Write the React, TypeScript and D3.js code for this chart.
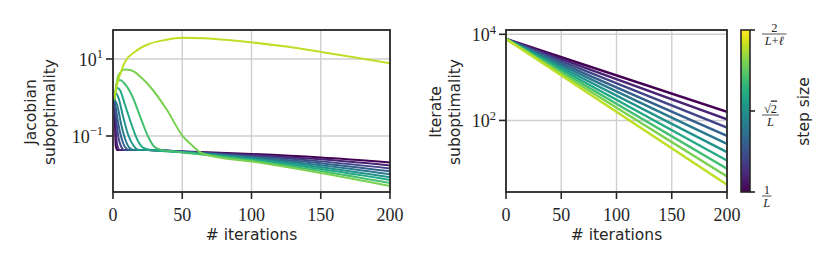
import React from 'react';
import * as d3 from 'd3';

// iterations shown on both panels
const xTickValues = [0, 50, 100, 150, 200];
const jacobianYTickExps = [1, -1];
const iterateYTickExps = [4, 2];

// left panel: one curve per step size (dark = 1/L ... light = larger step), [iteration, value]
const jacobianCurves: [number, number][][] = [
  [[1, 0.86], [2, 0.055], [3, 0.0433], [25, 0.0433], [50, 0.0396], [100, 0.0341], [150, 0.0276], [200, 0.0205]],
  [[1, 0.86], [2, 0.143], [3, 0.0583], [5, 0.0433], [25, 0.0433], [50, 0.0393], [100, 0.0323], [150, 0.0247], [200, 0.0172]],
  [[1, 0.86], [2, 0.351], [4, 0.0887], [6, 0.0517], [8, 0.0433], [25, 0.0433], [50, 0.039], [100, 0.0304], [150, 0.0219], [200, 0.0144]],
  [[1, 0.86], [2, 0.533], [4, 0.193], [7, 0.0698], [10, 0.0459], [12, 0.0433], [25, 0.0433], [50, 0.0386], [100, 0.0288], [150, 0.0195], [200, 0.0121]],
  [[1, 0.86], [3, 0.638], [6, 0.193], [9, 0.0787], [12, 0.0488], [15, 0.0433], [25, 0.0433], [50, 0.0384], [100, 0.0272], [150, 0.0174], [200, 0.0102]],
  [[1, 0.86], [2, 1.31], [4, 0.97], [7, 0.351], [11, 0.106], [15, 0.055], [19, 0.0433], [25, 0.0433], [50, 0.0382], [100, 0.0257], [150, 0.0155], [200, 0.0085]],
  [[1, 0.86], [3, 1.77], [5, 1.57], [8.7, 0.638], [13.5, 0.193], [18, 0.0741], [22, 0.0488], [27, 0.0433], [50, 0.0378], [100, 0.0244], [150, 0.0138], [200, 0.0072]],
  [[1, 0.86], [3, 2.53], [5, 2.85], [8, 2.38], [13.5, 1.16], [20.5, 0.261], [25.5, 0.094], [30, 0.0517], [35, 0.0432], [50, 0.0375], [100, 0.023], [150, 0.0123], [200, 0.006]],
  [[1, 0.86], [4, 3.84], [8.5, 5.34], [13.5, 5.03], [20, 3.4], [27, 1.87], [39, 0.473], [50.5, 0.097], [58, 0.0533], [63, 0.0373], [68, 0.0321], [100, 0.0218], [150, 0.0109], [200, 0.005]],
  [[1, 0.95], [3, 2.2], [5, 3.84], [8.7, 8.5], [16, 15.5], [25.5, 24.1], [37.5, 31.2], [50, 35.7], [66, 34.5], [81, 31.5], [101, 26.8], [125, 21], [150, 15.3], [175, 11], [200, 7.7]],
];

// right panel: straight lines on log scale from a common start
const iterateStartIter = 0;
const iterateEndIter = 200;
const iterateStart = 7800;
const iterateEnd = [158, 106, 68, 44, 28.5, 18.3, 11.7, 7.6, 5.0, 3.2];

// colorbar (step size, in units of 1/L)
const stepDomain = [1, 1.828];
const stepTicks = [
  { value: 1, num: '1', den: 'L' },
  { value: 1.414, num: '√2', den: 'L' },
  { value: 1.828, num: '2', den: 'L+ℓ' },
];

const ink = '#262626';
const gridColor = '#cfcfcf';
const serif = "'Liberation Serif', 'DejaVu Serif', serif";
const sans = "'DejaVu Sans', sans-serif";

const serifStyle = (size: number) => ({ fontFamily: serif, fontSize: size });
const sansStyle = { fontFamily: sans, fontSize: 15.5 };

const Sup = ({ x, y, exp, anchor }: { x: number; y: number; exp: number; anchor: string }) => (
  <text x={x} y={y} textAnchor={anchor} style={serifStyle(18)} fill={ink}>
    10
    <tspan dy={-7.5} style={{ fontSize: 12.5 }}>
      {exp < 0 ? '−' + Math.abs(exp) : String(exp)}
    </tspan>
  </text>
);

const Den = ({ s }: { s: string }) => (
  <>
    {s.split('').map((c, i) => (
      <tspan key={i} style={{ fontStyle: /[A-Za-zℓ]/.test(c) ? 'italic' : 'normal' }}>
        {c}
      </tspan>
    ))}
  </>
);

function Panel({ x0, x1, y0, y1, yDomain, yExps, clipId, children }: any) {
  const x = d3.scaleLinear().domain([0, 200]).range([x0, x1]);
  const y = d3.scaleLog().domain(yDomain).range([y1, y0]);
  return (
    <g>
      <defs>
        <clipPath id={clipId}>
          <rect x={x0} y={y0} width={x1 - x0} height={y1 - y0} />
        </clipPath>
      </defs>
      {xTickValues.slice(1, -1).map((t) => (
        <line key={'gx' + t} x1={x(t)} x2={x(t)} y1={y0} y2={y1} stroke={gridColor} strokeWidth={1.4} />
      ))}
      {yExps.map((e: number) => (
        <line key={'gy' + e} x1={x0} x2={x1} y1={y(10 ** e)} y2={y(10 ** e)} stroke={gridColor} strokeWidth={1.4} />
      ))}
      <g clipPath={`url(#${clipId})`}>{children(x, y)}</g>
      <rect x={x0} y={y0} width={x1 - x0} height={y1 - y0} fill="none" stroke={ink} strokeWidth={1.8} />
      {xTickValues.map((t) => (
        <g key={'tx' + t}>
          <line x1={x(t)} x2={x(t)} y1={y1} y2={y1 + 7} stroke={ink} strokeWidth={1.6} />
          <text x={x(t)} y={221} textAnchor="middle" style={serifStyle(18)} fill={ink}>
            {t}
          </text>
        </g>
      ))}
      {yExps.map((e: number) => (
        <g key={'ty' + e}>
          <line x1={x0 - 7} x2={x0} y1={y(10 ** e)} y2={y(10 ** e)} stroke={ink} strokeWidth={1.6} />
          <Sup x={x0 - 10} y={y(10 ** e) + 7} exp={e} anchor="end" />
        </g>
      ))}
      <text x={(x0 + x1) / 2} y={240} textAnchor="middle" style={sansStyle} fill={ink}>
        # iterations
      </text>
    </g>
  );
}

export default function App() {
  const color = (i: number) => d3.interpolateViridis(i / 10);
  const cbY = d3.scaleLinear().domain(stepDomain).range([192, 30]);
  const gradStops = d3.range(0, 1.0001, 0.05);

  return (
    <svg
      width={830}
      height={267}
      style={{ position: 'absolute', left: 0, top: 0, background: '#fff' }}
    >
      <Panel
        x0={113}
        x1={390}
        y0={30}
        y1={192}
        yDomain={[10 ** -2.455, 10 ** 1.753]}
        yExps={jacobianYTickExps}
        clipId="clipL"
      >
        {(x: any, y: any) => {
          const line = d3
            .line<[number, number]>()
            .x((d) => x(d[0]))
            .y((d) => y(d[1]))
            .curve(d3.curveMonotoneX);
          return jacobianCurves.map((c, i) => (
            <path key={i} d={line(c) || ''} fill="none" stroke={color(i)} strokeWidth={2} />
          ));
        }}
      </Panel>
      <text transform="translate(35.7,112) rotate(-90)" textAnchor="middle" style={sansStyle} fill={ink}>
        Jacobian
      </text>
      <text transform="translate(55,112) rotate(-90)" textAnchor="middle" style={sansStyle} fill={ink}>
        suboptimality
      </text>

      <Panel
        x0={506}
        x1={727}
        y0={30}
        y1={192}
        yDomain={[10 ** 0.338, 10 ** 4.1]}
        yExps={iterateYTickExps}
        clipId="clipR"
      >
        {(x: any, y: any) => {
          const line = d3
            .line<[number, number]>()
            .x((d) => x(d[0]))
            .y((d) => y(d[1]));
          return iterateEnd.map((v, i) => (
            <path
              key={i}
              d={line([[iterateStartIter, iterateStart], [iterateEndIter, v]]) || ''}
              fill="none"
              stroke={color(i)}
              strokeWidth={2.4}
            />
          ));
        }}
      </Panel>
      <text transform="translate(440.7,112) rotate(-90)" textAnchor="middle" style={sansStyle} fill={ink}>
        Iterate
      </text>
      <text transform="translate(460,112) rotate(-90)" textAnchor="middle" style={sansStyle} fill={ink}>
        suboptimality
      </text>

      {/* colorbar */}
      <defs>
        <linearGradient id="viridisGrad" x1="0" y1="1" x2="0" y2="0">
          {gradStops.map((t) => (
            <stop key={t} offset={`${t * 100}%`} stopColor={d3.interpolateViridis(t)} />
          ))}
        </linearGradient>
      </defs>
      <rect x={741} y={30} width={9} height={162} fill="url(#viridisGrad)" stroke={ink} strokeWidth={1.6} />
      {stepTicks.map((t) => {
        const yt = cbY(t.value);
        const w = Math.max(t.num.length, t.den.length) * 7.5 + 2;
        const cx = 762 + w / 2;
        return (
          <g key={t.value}>
            <line x1={750} x2={755} y1={yt} y2={yt} stroke={ink} strokeWidth={1.6} />
            <text x={cx} y={yt + 1.5} textAnchor="middle" style={serifStyle(12.5)} fill={ink}>
              {t.num.startsWith('√') ? (
                <>
                  √<tspan style={{ textDecoration: 'overline' }}>{t.num.slice(1)}</tspan>
                </>
              ) : (
                t.num
              )}
            </text>
            <line x1={762} x2={762 + w} y1={yt + 4} y2={yt + 4} stroke={ink} strokeWidth={0.8} />
            <text x={cx} y={yt + 14.5} textAnchor="middle" style={serifStyle(12.5)} fill={ink}>
              <Den s={t.den} />
            </text>
          </g>
        );
      })}
      <text transform="translate(809,111.5) rotate(-90)" textAnchor="middle" style={sansStyle} fill={ink}>
        step size
      </text>
    </svg>
  );
}
